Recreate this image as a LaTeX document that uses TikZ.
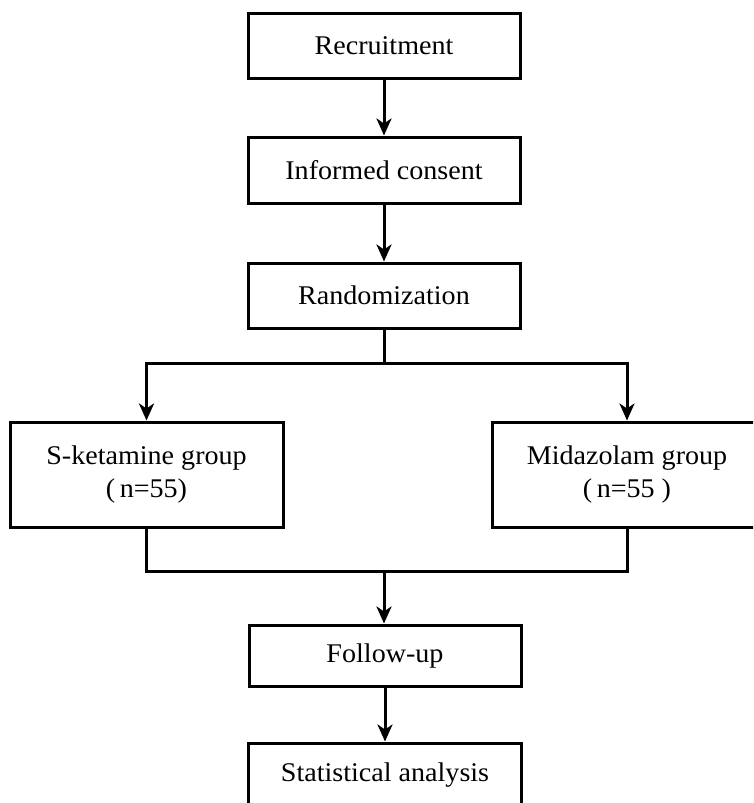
\documentclass[tikz,border=0pt]{standalone}
\usepackage{fontspec}
\setmainfont{Liberation Serif}[FakeStretch=1.04]
\usetikzlibrary{arrows.meta}
\begin{document}
\begin{tikzpicture}[x=1pt,y=-1pt,
  box/.style={draw=black, line width=3pt, fill=white, inner sep=0pt, align=center,
    font=\fontsize{27}{33}\selectfont, text=black},
  conn/.style={line width=3pt, draw=black},
  arr/.style={conn, -{Stealth[length=17pt,width=15pt,inset=5pt]}}]
\useasboundingbox (0,0) rectangle (753,803);
\clip (0,0) rectangle (753,803);
\fill[white] (0,0) rectangle (753,803);
\node[box, minimum width=272pt, minimum height=65pt] (rec) at (384,45.5) {Recruitment};
\node[box, minimum width=272pt, minimum height=66pt] (inf) at (384,170) {Informed consent};
\node[box, minimum width=272pt, minimum height=65pt] (ran) at (384,295.5) {Randomization};
\node[box, minimum width=273pt, minimum height=105pt] (sk) at (146.5,474.5) {S-ketamine group\\(\,n=55)};
\node[box, minimum width=270pt, minimum height=105pt] (mz) at (627,474.5) {Midazolam group\\(\,n=55\ )};
\node[box, minimum width=272pt, minimum height=61pt] (fu) at (385,655.5) {Follow-up};
\node[box, minimum width=273pt, minimum height=65pt] (st) at (385,775.5) {Statistical analysis};
\coordinate (split) at (384,363);
\coordinate (join) at (384,571);
\draw[arr] (rec.south) -- (inf.north);
\draw[arr] (inf.south) -- (ran.north);
\draw[conn] (ran.south) -- (split);
\draw[arr] (split) -| (sk.north);
\draw[arr] (split) -| (mz.north);
\draw[conn] (sk.south) |- (join) -| (mz.south);
\draw[arr] (join) -- (join |- fu.north);
\draw[arr] (fu.south) -- (fu.south |- st.north);
\end{tikzpicture}
\end{document}
